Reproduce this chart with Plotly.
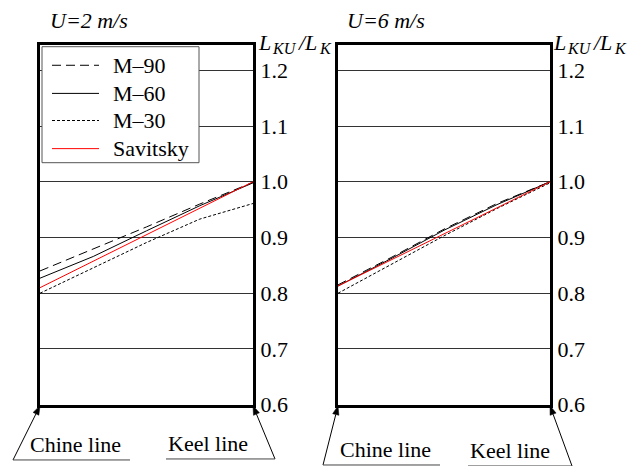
import math
import plotly.graph_objects as go

W, H = 642, 466
FIG_H = 481

# Relative position across the bottom: 0 = chine line, 1 = keel line
positions = [0.0, 0.25, 0.5, 0.75, 1.0]
savitsky_positions = [0.0, 1.0]

series_names = ["M–90", "M–60", "M–30", "Savitsky"]

# U = 2 m/s
u2_m90 = [0.840, 0.879, 0.919, 0.960, 0.999]
u2_m60 = [0.827, 0.866, 0.912, 0.957, 0.998]
u2_m30 = [0.800, 0.845, 0.891, 0.933, 0.961]
u2_sav = [0.810, 1.000]

# U = 6 m/s
u6_m90 = [0.815, 0.864, 0.915, 0.961, 1.000]
u6_m60 = [0.813, 0.862, 0.913, 0.959, 1.000]
u6_m30 = [0.800, 0.851, 0.903, 0.952, 0.998]
u6_sav = [0.813, 1.000]

panel_titles = ["U=2 m/s", "U=6 m/s"]
tick_values = [0.6, 0.7, 0.8, 0.9, 1.0, 1.1, 1.2]
tick_labels = ["0.6", "0.7", "0.8", "0.9", "1.0", "1.1", "1.2"]
edge_labels = ["Chine line", "Keel line"]

FONT = "Liberation Serif"

styles = {
    "M–90": dict(color="black", width=1, dash="9px,5px"),
    "M–60": dict(color="black", width=1, dash="solid"),
    "M–30": dict(color="black", width=1, dash="3px,2px"),
    "Savitsky": dict(color="#ff0000", width=1, dash="solid"),
}


def fx(p):
    return p / W


def fy(p):
    return 1 - p / H


panels = [
    dict(x="x", y="y", xa="xaxis", ya="yaxis", left=40, right=253,
         data={"M–90": u2_m90, "M–60": u2_m60, "M–30": u2_m30, "Savitsky": u2_sav}),
    dict(x="x2", y="y2", xa="xaxis2", ya="yaxis2", left=338, right=550,
         data={"M–90": u6_m90, "M–60": u6_m60, "M–30": u6_m30, "Savitsky": u6_sav}),
]

fig = go.Figure()
draw_order = ["M–30", "M–90", "M–60", "Savitsky"]
for pnl in panels:
    for name in draw_order:
        xs = savitsky_positions if name == "Savitsky" else positions
        fig.add_trace(go.Scatter(
            x=xs, y=pnl["data"][name], mode="lines", name=name,
            line=styles[name], xaxis=pnl["x"], yaxis=pnl["y"],
            showlegend=False, hoverinfo="skip"))

top_px, bottom_px = 45, 403
layout = dict(
    autosize=False, width=W, height=FIG_H, margin=dict(l=0, r=0, t=0, b=0, pad=0),
    paper_bgcolor="white", plot_bgcolor="white", showlegend=False,
    font=dict(family=FONT, size=22, color="black"),
)
for pnl in panels:
    layout[pnl["xa"]] = dict(
        domain=[fx(pnl["left"]), fx(pnl["right"])], range=[0, 1],
        anchor=pnl["y"], showgrid=False, zeroline=False, showticklabels=False,
        ticks="", showline=True, mirror=True, linewidth=3, linecolor="black")
    layout[pnl["ya"]] = dict(
        domain=[fy(bottom_px), fy(top_px)], range=[0.6, 1.245],
        anchor=pnl["x"], side="right", tickvals=tick_values, ticktext=tick_labels,
        tickfont=dict(family=FONT, size=22, color="black"),
        showgrid=True, gridcolor="#333", gridwidth=1, zeroline=False, ticks="",
        showline=True, mirror=True, linewidth=3, linecolor="black")
fig.update_layout(**layout)

shapes = []
annotations = []

# Legend box inside the left panel
shapes.append(dict(type="rect", xref="paper", yref="paper",
                   x0=fx(42), x1=fx(199), y0=fy(162), y1=fy(46.5),
                   fillcolor="white", line=dict(color="#555", width=1), layer="above"))
legend_rows = [65, 93, 120, 148]
for name, row in zip(series_names, legend_rows):
    shapes.append(dict(type="line", xref="paper", yref="paper",
                       x0=fx(52), x1=fx(99), y0=fy(row), y1=fy(row),
                       line=styles[name], layer="above"))
    annotations.append(dict(text=name, xref="paper", yref="paper",
                            x=fx(111), y=fy(row), xanchor="left", yanchor="middle",
                            showarrow=False, font=dict(family=FONT, size=22)))

# Panel titles
title_x = [48, 345]
for t, tx in zip(panel_titles, title_x):
    annotations.append(dict(text=t, xref="paper", yref="paper",
                            x=fx(tx), y=fy(20), xanchor="left", yanchor="middle",
                            showarrow=False,
                            font=dict(family=FONT, size=22, style="italic")))

# Axis title L_KU / L_K built from separately sized pieces
label_parts = [("L", 0, 22, 0), ("KU", 14, 16, 6), ("/L", 39, 22, 0), ("K", 61, 16, 6)]
for lx in [256, 551]:
    for txt, dx, size, dy in label_parts:
        annotations.append(dict(text=txt, xref="paper", yref="paper",
                                x=fx(lx + dx), y=fy(42 + dy), xanchor="left",
                                yanchor="middle", showarrow=False,
                                font=dict(family=FONT, size=size, style="italic")))


def arrow_shapes(tail, tip, head_len=9, head_half=3.2):
    """Pointer line with a filled head, given pixel endpoints."""
    (x0, y0), (x1, y1) = tail, tip
    ang = math.atan2(y1 - y0, x1 - x0)
    bx, by = x1 - head_len * math.cos(ang), y1 - head_len * math.sin(ang)
    px, py = -math.sin(ang) * head_half, math.cos(ang) * head_half
    pts = [(x1, y1), (bx + px, by + py), (bx - px, by - py)]
    path = "M " + " L ".join("%.5f,%.5f" % (fx(a), fy(b)) for a, b in pts) + " Z"
    return [
        dict(type="line", xref="paper", yref="paper",
             x0=fx(x0), y0=fy(y0), x1=fx(bx), y1=fy(by),
             line=dict(color="black", width=1)),
        dict(type="path", xref="paper", yref="paper", path=path,
             fillcolor="black", line=dict(color="black", width=0.5)),
    ]


# Chine / keel markers under each panel
edge_marks = [
    # (corner x, tail x, tail y, underline x0, underline x1, text centre x)
    [(40, 13, 458, 13, 130, 75), (253, 275, 457, 166, 275, 208)],
    [(338, 323, 463, 323, 440, 385), (550, 572, 464, 468, 572, 510)],
]
for marks in edge_marks:
    for label, (cx, tx, ty, u0, u1, txc) in zip(edge_labels, marks):
        shapes.extend(arrow_shapes((tx, ty), (cx, bottom_px + 1)))
        shapes.append(dict(type="line", xref="paper", yref="paper",
                           x0=fx(u0), x1=fx(u1), y0=fy(ty), y1=fy(ty),
                           line=dict(color="#444", width=1)))
        annotations.append(dict(text=label, xref="paper", yref="paper",
                                x=fx(txc), y=fy(ty - 1), xanchor="center",
                                yanchor="bottom", showarrow=False,
                                font=dict(family=FONT, size=22)))

fig.update_layout(shapes=shapes, annotations=annotations)
fig.write_html("out.html")
